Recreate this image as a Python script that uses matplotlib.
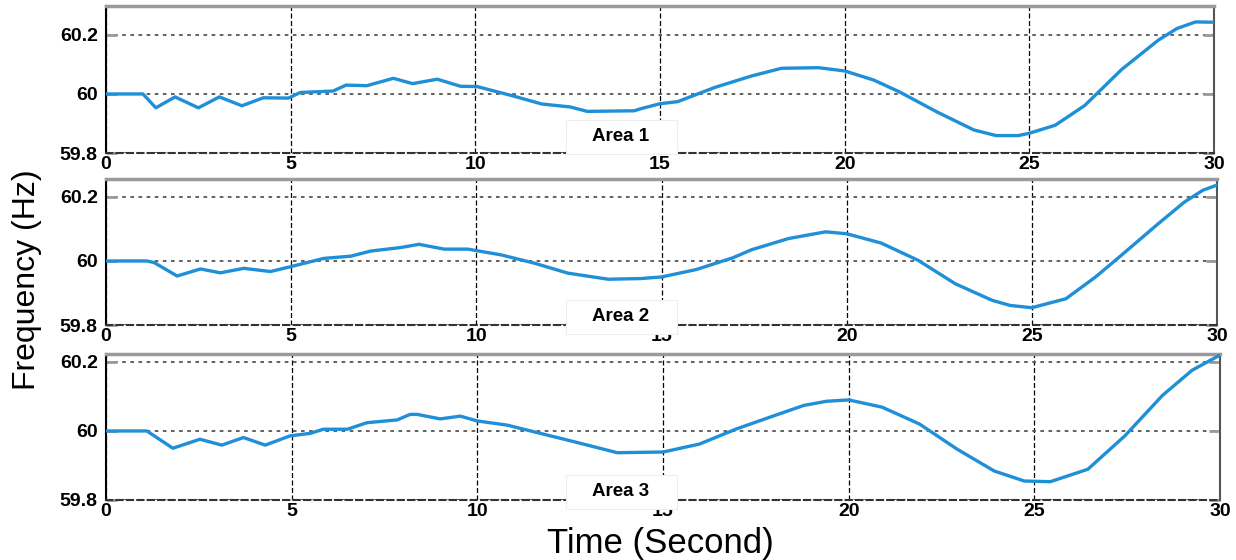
import numpy as np
import matplotlib
matplotlib.use('Agg')
import matplotlib.pyplot as plt
from matplotlib.patches import Rectangle

plt.rcParams['font.family'] = ['Liberation Sans', 'DejaVu Sans']

# =========================
# DATA
# =========================
t_area1 = [0, 1.0, 1.35, 1.87, 2.5, 3.07, 3.68, 4.26, 4.94, 5.26, 6.15, 6.5, 7.06, 7.78,
           8.3, 8.97, 9.6, 10.05, 11.0, 11.8, 12.57, 13.03, 14.3, 14.48, 15.0, 15.48,
           16.48, 17.48, 18.29, 19.29, 20.0, 20.79, 21.5, 22.5, 23.5, 24.1, 24.7, 25.0,
           25.7, 26.5, 27.0, 27.5, 28.5, 29.0, 29.5, 30]
f_area1 = [60, 60, 59.953, 59.99, 59.953, 59.99, 59.96, 59.987, 59.986, 60.005, 60.01,
           60.03, 60.028, 60.053, 60.035, 60.05, 60.026, 60.025, 59.994, 59.966, 59.956,
           59.941, 59.943, 59.95, 59.967, 59.974, 60.022, 60.061, 60.087, 60.089, 60.078,
           60.047, 60.006, 59.939, 59.878, 59.859, 59.859, 59.867, 59.894, 59.961, 60.022,
           60.083, 60.183, 60.222, 60.244, 60.243]

t_area2 = [0, 1.1, 1.3, 1.92, 2.55, 3.09, 3.72, 4.44, 4.98, 5.88, 6.61, 7.15, 7.96, 8.45,
           9.13, 9.77, 10.67, 11.57, 12.47, 13.56, 14.43, 15.0, 15.93, 16.93, 17.43,
           18.43, 19.43, 20.0, 20.93, 21.93, 22.93, 23.93, 24.42, 25.0, 25.92, 26.72,
           27.42, 28.42, 29.12, 29.62, 30]
f_area2 = [60, 60, 59.995, 59.953, 59.975, 59.963, 59.977, 59.967, 59.982, 60.008, 60.015,
           60.031, 60.042, 60.052, 60.037, 60.037, 60.019, 59.993, 59.962, 59.943, 59.945,
           59.95, 59.973, 60.01, 60.035, 60.07, 60.091, 60.085, 60.056, 60.002, 59.929,
           59.877, 59.861, 59.854, 59.882, 59.95, 60.018, 60.117, 60.184, 60.221, 60.237]

t_area3 = [0, 1.1, 1.8, 2.53, 3.12, 3.7, 4.29, 4.96, 5.5, 5.85, 6.5, 7.03, 7.84, 8.19, 8.38,
           9.0, 9.54, 10.0, 10.8, 11.7, 12.6, 13.77, 14.37, 15.0, 15.98, 16.98, 17.88,
           18.79, 19.4, 20.0, 20.9, 21.91, 22.91, 23.92, 24.73, 25.43, 26.44, 27.44,
           28.45, 29.25, 30]
f_area3 = [60, 60, 59.95, 59.976, 59.959, 59.981, 59.959, 59.986, 59.993, 60.005, 60.005,
           60.024, 60.032, 60.048, 60.048, 60.035, 60.043, 60.029, 60.017, 59.993, 59.969,
           59.937, 59.938, 59.939, 59.962, 60.006, 60.04, 60.074, 60.086, 60.09, 60.069,
           60.02, 59.948, 59.884, 59.855, 59.853, 59.889, 59.986, 60.103, 60.176, 60.22]

area_labels = ['Area 1', 'Area 2', 'Area 3']
x_ticks = [0, 5, 10, 15, 20, 25, 30]
y_ticks = [59.8, 60, 60.2]
y_tick_labels = ['59.8', '60', '60.2']
y_tops = [60.298, 60.256, 60.223]

# =========================
# STYLE
# =========================
LINE_COLOR = '#1f8fd8'
W, H = 1236, 560

# axes boxes in pixels: left, top, right, bottom
boxes = [(106, 6, 1214, 153), (106, 179, 1217, 325), (106, 354, 1220, 500)]
label_y = [0.109, 0.055, 0.055]

fig = plt.figure(figsize=(W / 100, H / 100), dpi=100)

series = [(t_area1, f_area1), (t_area2, f_area2), (t_area3, f_area3)]

for i, ((t, f), (l, tp, r, b)) in enumerate(zip(series, boxes)):
    ax = fig.add_axes([l / W, 1 - b / H, (r - l) / W, (b - tp) / H])
    ax.plot(t, f, color=LINE_COLOR, linewidth=2.4, solid_capstyle='round',
            solid_joinstyle='round', zorder=3)

    ax.set_xlim(0, 30)
    ax.set_ylim(59.8, y_tops[i])
    ax.set_xticks(x_ticks)
    ax.set_xticklabels([str(v) for v in x_ticks], fontweight='bold', fontsize=14)
    ax.set_yticks(y_ticks)
    ax.set_yticklabels(y_tick_labels, fontweight='bold', fontsize=14)

    ax.xaxis.grid(True, color='black', linestyle=(0, (4, 2)), linewidth=0.9)
    ax.yaxis.grid(True, color='#555555', linestyle=(0, (2, 2.5)), linewidth=1.3)

    ax.tick_params(axis='y', direction='in', length=8, width=2, color='#999999',
                   left=True, right=True, pad=6)
    ax.tick_params(axis='x', length=0, pad=2)

    ax.spines['top'].set_color('#9a9a9a')
    ax.spines['top'].set_linewidth(2.5)
    ax.spines['left'].set_color('black')
    ax.spines['left'].set_linewidth(1.5)
    ax.spines['right'].set_color('#555555')
    ax.spines['right'].set_linewidth(1.5)
    ax.spines['bottom'].set_color('#333333')
    ax.spines['bottom'].set_linestyle((0, (3, 2)))
    ax.spines['bottom'].set_linewidth(1.5)

    # Area label in a small white box
    bw = 111 / (r - l)
    bh = 34 / (b - tp)
    cx = (621 - l) / (r - l)
    ax.add_patch(Rectangle((cx - bw / 2, label_y[i] - bh / 2), bw, bh,
                           transform=ax.transAxes, facecolor='white',
                           edgecolor='#eeeeee', linewidth=0.8, clip_on=False, zorder=4))
    ax.text(cx, label_y[i], area_labels[i], transform=ax.transAxes, ha='center',
            va='center', fontsize=13.5, fontweight='bold', zorder=5)

fig.text(27 / W, 1 - 280 / H, 'Frequency (Hz)', rotation=90, ha='center', va='center',
         fontsize=23)
fig.text(660 / W, 1 - 543 / H, 'Time (Second)', ha='center', va='center', fontsize=25)

plt.savefig('out.png', dpi=100)
